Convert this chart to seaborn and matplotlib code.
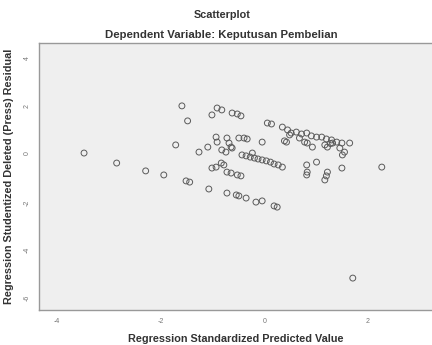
import matplotlib
matplotlib.use("Agg")
import matplotlib.pyplot as plt
import seaborn as sns
import pandas as pd

title = "Scatterplot"
subtitle = "Dependent Variable: Keputusan Pembelian"
x_label = "Regression Standardized Predicted Value"
y_label = "Regression Studentized Deleted (Press) Residual"
x_ticks = [-4, -2, 0, 2]
y_ticks = [4, 2, 0, -2, -4, -6]

pred = [-3.48, -2.85, -2.29, -1.94, -1.59, -1.48, -1.71, -1.51, -1.44, -1.26,
        -1.09, -1.07, -1.01, -0.91, -0.82, -0.62, -0.52, -0.45, -0.93, -0.91,
        -0.72, -0.68, -0.49, -0.39, -0.33, -0.82, -0.74, -0.64, -0.62, -1.01,
        -0.93, -0.83, -0.78, -0.72, -0.64, -0.52, -0.45, -0.72, -0.54, -0.49,
        -0.35, -0.16, -0.04, 0.19, 0.25, 0.06, 0.14, -0.04, 0.39, 0.35,
        0.45, 0.52, 0.62, 0.72, 0.82, 0.91, 1.01, 1.11, 1.20, 1.30,
        1.40, 1.50, 1.65, 0.49, 0.68, 0.78, 0.83, 0.93, 1.17, 1.28,
        1.51, 1.55, 1.01, 0.82, 0.83, 0.82, 1.22, 1.20, 1.17, 1.50,
        2.27, 1.71, 0.43, 1.22, 1.32, 1.46,
        -0.43, -0.35, -0.27, -0.19, -0.12, -0.04, 0.04, 0.12, 0.19, 0.27, 0.35,
        -0.23]
resid = [0.04, -0.38, -0.71, -0.88, 2.02, 1.39, 0.38, -1.13, -1.18, 0.08,
         0.29, -1.47, 1.64, 1.93, 1.85, 1.72, 1.68, 1.60, 0.71, 0.50,
         0.67, 0.46, 0.67, 0.67, 0.63, 0.17, 0.08, 0.29, 0.25, -0.59,
         -0.55, -0.38, -0.46, -0.76, -0.80, -0.88, -0.92, -1.64, -1.72, -1.76,
         -1.85, -2.02, -1.97, -2.18, -2.23, 1.30, 1.26, 0.50, 0.55, 1.13,
         1.01, 0.88, 0.92, 0.84, 0.88, 0.76, 0.71, 0.71, 0.63, 0.59,
         0.50, 0.46, 0.46, 0.80, 0.67, 0.50, 0.46, 0.29, 0.38, 0.44,
         -0.04, 0.08, -0.34, -0.46, -0.76, -0.88, -0.76, -0.92, -1.09, -0.59,
         -0.55, -5.21, 0.50, 0.29, 0.46, 0.25,
         -0.04, -0.08, -0.13, -0.17, -0.21, -0.25, -0.29, -0.34, -0.42, -0.46, -0.55,
         0.04]

df = pd.DataFrame({"pred": pred, "resid": resid})

sns.set_style("white")
plt.rcParams["font.family"] = ["Liberation Sans", "DejaVu Sans"]

fig = plt.figure(figsize=(4.32, 3.45), dpi=100)
ax = fig.add_axes([39 / 432, 35 / 345, 393 / 432, 267 / 345])
ax.set_facecolor("#efefef")

sns.scatterplot(data=df, x="pred", y="resid", ax=ax, s=18, marker="o",
                facecolors="none", edgecolor="#5a5a5a", linewidth=0.7)

ax.set_xlim(-4.35, 3.24)
ax.set_ylim(-6.55, 4.66)
ax.set_xticks(x_ticks)
ax.set_yticks(y_ticks)
ax.set_xticklabels([str(t) for t in x_ticks])
ax.set_yticklabels([str(t) for t in y_ticks])
ax.tick_params(axis="both", direction="out", length=5, width=0.8,
               color="#555555", labelsize=5, labelcolor="#777777", pad=1)
ax.tick_params(axis="y", labelrotation=90)
for side in ["left", "bottom", "top"]:
    ax.spines[side].set_color("#999999")
    ax.spines[side].set_linewidth(1.0)
ax.spines["right"].set_visible(False)

ax.set_xlabel(x_label, fontsize=7.8, fontweight="bold", color="#333333", labelpad=6)
ax.set_ylabel(y_label, fontsize=7.8, fontweight="bold", color="#333333", labelpad=7)

fig.text(222 / 432, 1 - 15 / 345, title, ha="center", va="center",
         fontsize=7.8, fontweight="bold", color="#333333")
fig.text(221 / 432, 1 - 35 / 345, subtitle, ha="center", va="center",
         fontsize=8.2, fontweight="bold", color="#333333")

fig.savefig("out.png", dpi=100)
